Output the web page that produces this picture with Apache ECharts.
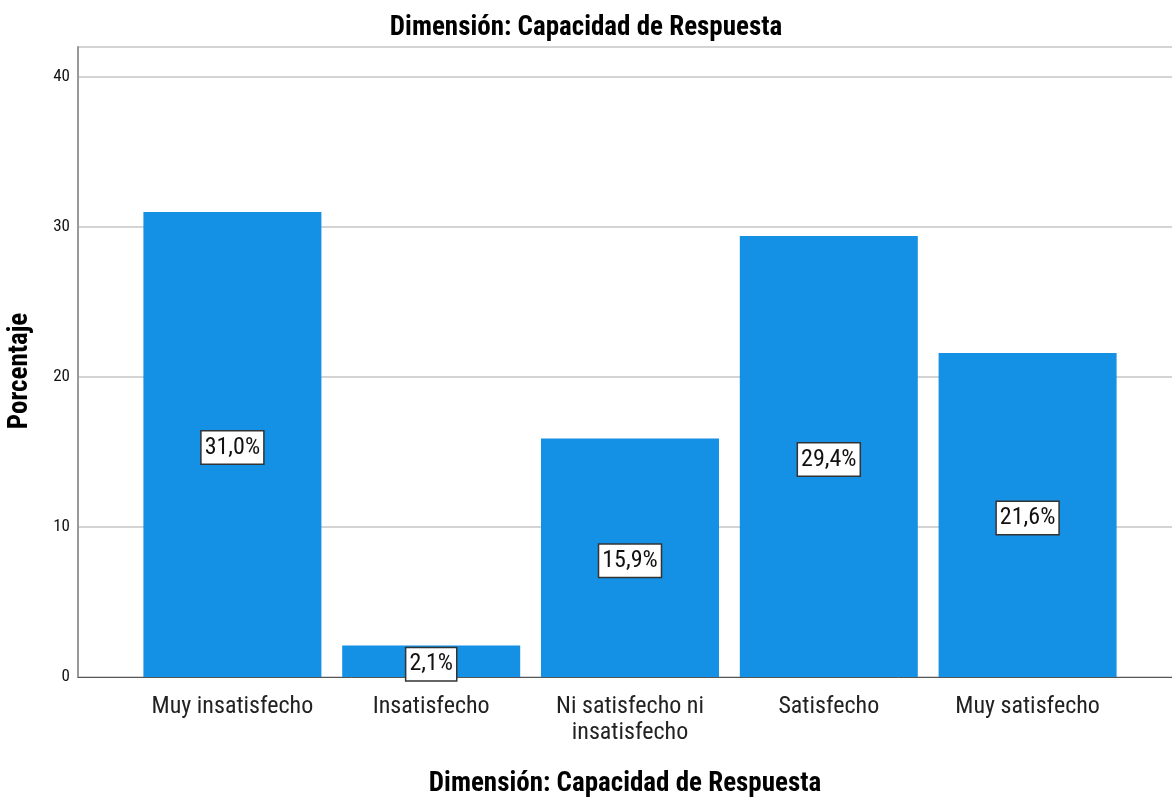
<!DOCTYPE html>
<html>
<head>
<meta charset="utf-8">
<script src="https://cdn.jsdelivr.net/npm/echarts@6/dist/echarts.min.js"></script>
<style>
  html, body { margin: 0; padding: 0; background: #fff; }
  #chart { width: 1172px; height: 797px; }
</style>
</head>
<body>
<div id="chart"></div>
<script>
const categories = ['Muy insatisfecho', 'Insatisfecho', 'Ni satisfecho ni\ninsatisfecho', 'Satisfecho', 'Muy satisfecho']
const percentages = [31.0, 2.1, 15.9, 29.4, 21.6]
const yTicks = [0, 10, 20, 30, 40]

const FONT = '"Liberation Sans Narrow", "Arial Narrow", "Roboto Condensed", "Liberation Sans", sans-serif'
const yMax = 42

const chart = echarts.init(document.getElementById('chart'))

const option = {
  animation: false,
  backgroundColor: '#ffffff',
  title: {
    text: 'Dimensión: Capacidad de Respuesta',
    left: 'center',
    top: 10,
    textStyle: { fontFamily: FONT, fontSize: 27, fontWeight: 'bold', color: '#000' },
  },
  grid: [
    { left: 78, right: 0, top: 47, bottom: 120, containLabel: false, outerBoundsMode: 'none' },
    { left: 133, right: 45, top: 47, bottom: 120, containLabel: false, outerBoundsMode: 'none' },
  ],
  xAxis: [
    {
      gridIndex: 0,
      type: 'value',
      min: 0,
      max: 1,
      axisLine: { show: true, onZero: false, lineStyle: { color: '#555', width: 1 } },
      axisTick: { show: false },
      axisLabel: { show: false },
      splitLine: { show: false },
      name: 'Dimensión: Capacidad de Respuesta',
      nameLocation: 'middle',
      nameGap: 94,
      nameTextStyle: { fontFamily: FONT, fontSize: 27, fontWeight: 'bold', color: '#000' },
    },
    {
      gridIndex: 1,
      type: 'category',
      data: categories,
      axisLine: { show: false },
      axisTick: { show: false },
      axisLabel: {
        fontFamily: FONT,
        fontSize: 24,
        color: '#222',
        margin: 17,
        lineHeight: 26,
        interval: 0,
      },
    },
  ],
  yAxis: [
    {
      gridIndex: 0,
      type: 'value',
      min: 0,
      max: yMax,
      interval: 10,
      axisLine: { show: true, lineStyle: { color: '#999', width: 2 } },
      axisTick: { show: false },
      axisLabel: {
        fontFamily: FONT,
        fontSize: 17,
        color: '#111',
        margin: 8,
        formatter: v => (yTicks.includes(v) ? String(v) : ''),
      },
      splitLine: { show: true, lineStyle: { color: '#d4d4d4', width: 2 } },
      name: 'Porcentaje',
      nameLocation: 'middle',
      nameGap: 44,
      nameRotate: 90,
      nameTextStyle: { fontFamily: FONT, fontSize: 27, fontWeight: 'bold', color: '#000', padding: [0, 18, 0, 0] },
    },
    {
      gridIndex: 1,
      type: 'value',
      min: 0,
      max: yMax,
      show: false,
    },
  ],
  series: [
    {
      type: 'bar',
      xAxisIndex: 1,
      yAxisIndex: 1,
      barWidth: 178,
      data: percentages,
      itemStyle: { color: '#1490e4' },
      label: {
        show: true,
        position: 'inside',
        offset: [0, 3],
        formatter: p => p.value.toFixed(1).replace('.', ',') + '%',
        fontFamily: FONT,
        fontSize: 24,
        color: '#111',
        backgroundColor: '#fff',
        borderColor: '#333',
        borderWidth: 1.5,
        padding: [5, 3, 3, 3],
      },
    },
  ],
}

chart.setOption(option)
</script>
</body>
</html>
